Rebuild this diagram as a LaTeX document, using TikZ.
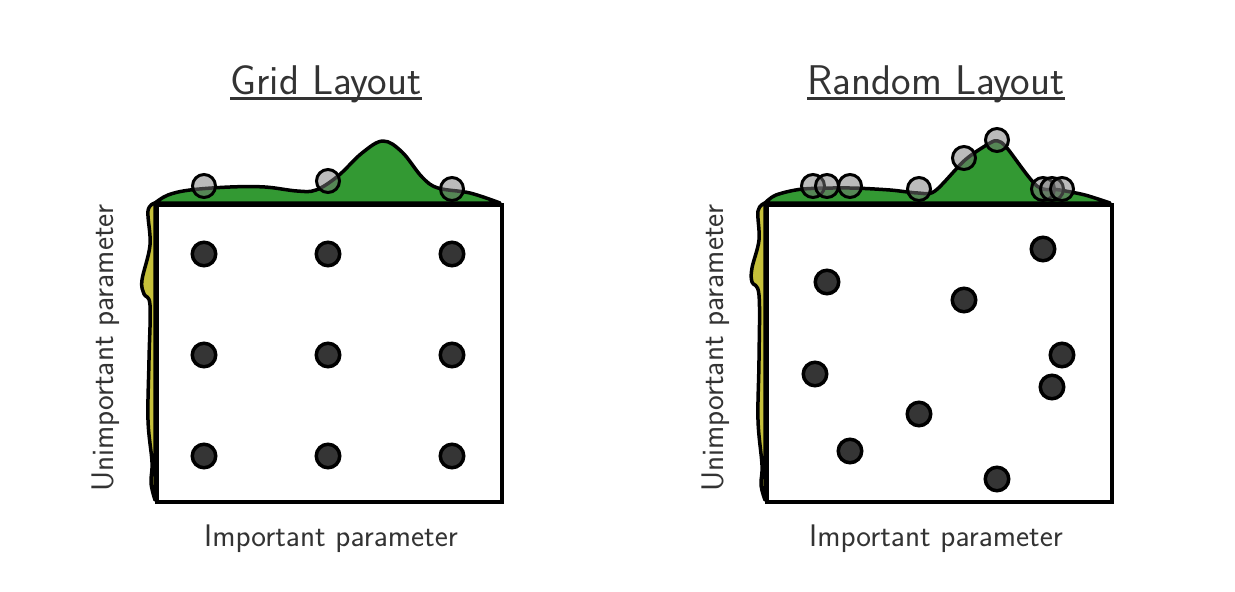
\documentclass[tikz,border=0pt]{standalone}
\usepackage{xcolor}
\usetikzlibrary{positioning}
\definecolor{txtgray}{HTML}{333333}
\definecolor{dotgray}{HTML}{353535}
\definecolor{projgray}{HTML}{777777}
\definecolor{kdegreen}{HTML}{339933}
\definecolor{kdeyellow}{HTML}{C6C03A}

\begin{document}
\begin{tikzpicture}[x=1pt, y=-1pt,
    panel/.style={rectangle, draw=black, fill=white, line width=3.5pt, minimum width=345pt, minimum height=297pt, inner sep=0pt, anchor=north west},
    sample/.style={circle, draw=black, fill=dotgray, line width=3.5pt, minimum size=23.5pt, inner sep=0pt},
    proj/.style={circle, draw=black, fill=projgray, fill opacity=0.5, line width=3pt, minimum size=23pt, inner sep=0pt},
    kde/.style={line width=3.5pt, line join=round, draw=black},
    title/.style={font=\fontsize{41.5}{45}\selectfont\sffamily, text=txtgray, anchor=base, inner xsep=0pt},
    underline/.style={line width=3pt, draw=txtgray},
    axis label/.style={font=\fontsize{31.2}{34}\selectfont\sffamily, text=txtgray, anchor=base}]

    \useasboundingbox (0,0) rectangle (1235,592);

    % Marginal densities (Grid)
    \filldraw[kde, fill=kdegreen] plot[smooth, tension=0.6] coordinates {(155,203) (168,195) (190,190) (230,187) (265,187) (297,191) (316,190) (338,176) (362,153) (383,141) (402,152) (422,177) (438,188) (470,193) (500,203)} -- cycle;
    \filldraw[kde, fill=kdeyellow] plot[smooth, tension=0.6] coordinates {(155,203) (148,211) (150,245) (142,280) (144,294) (150,305) (149,360) (148,420) (152,462) (151,483) (155,500)} -- cycle;

    % Marginal densities (Random)
    \filldraw[kde, fill=kdegreen] plot[smooth, tension=0.5] coordinates {(765,203) (776,195) (803,189) (850,188) (890,190) (918,193) (935,191) (965,160) (990,143) (998,141) (1007,148) (1037,186) (1060,190) (1085,195) (1110,203)} -- cycle;
    \filldraw[kde, fill=kdeyellow] plot[smooth, tension=0.6] coordinates {(765,203) (758,211) (759,240) (752,268) (752,282) (759,295) (759,360) (758,420) (762,465) (761,485) (765,500)} -- cycle;

    % Panels
    \node[panel] (gridbox) at (155,203) {};
    \node[panel] (randbox) at (765,203) {};

    % Grid samples
    \foreach \i/\x in {1/204, 2/328, 3/452} {
        \foreach \j/\y in {1/254, 2/355, 3/456}
            \node[sample] (g\i\j) at (\x,\y) {};
    }
    \node[proj] (gp1) at (204,186) {};
    \node[proj] (gp2) at (328,181) {};
    \node[proj] (gp3) at (452,189) {};

    % Random samples
    \foreach \k/\x/\y in {1/827/282, 2/964/300, 3/1043/249, 4/1062/355, 5/1052/387, 6/815/374, 7/919/414, 8/850/451, 9/997/479}
        \node[sample] (r\k) at (\x,\y) {};
    \foreach \k/\x/\y in {1/813/186, 2/827/186, 3/850/186, 4/919/189, 5/964/158, 6/997/140, 7/1043/189, 8/1052/189, 9/1062/189}
        \node[proj] (rp\k) at (\x,\y) {};

    % Titles and axis labels
    \node[title] (gridtitle) at (326,94) {Grid Layout};
    \node[title] (randtitle) at (936,94) {Random Layout};
    \draw[underline] ([yshift=-4pt]gridtitle.base west) -- ([yshift=-4pt]gridtitle.base east);
    \draw[underline] ([yshift=-4pt]randtitle.base west) -- ([yshift=-4pt]randtitle.base east);
    \node[axis label] (gridx) at (331,546) {Important parameter};
    \node[axis label] (randx) at (936,546) {Important parameter};
    \node[axis label, rotate=90] (gridy) at (113,348) {Unimportant parameter};
    \node[axis label, rotate=90] (randy) at (723,348) {Unimportant parameter};

\end{tikzpicture}
\end{document}
